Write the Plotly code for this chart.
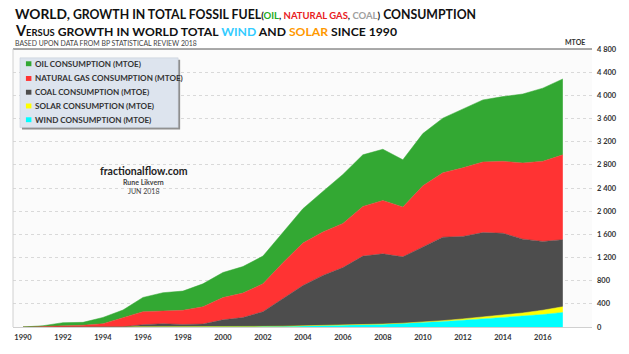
import plotly.graph_objects as go

years = list(range(1990, 2018))
wind = [0, 0, 0, 0, 0, 1, 1, 2, 3, 4, 6, 8, 11, 13, 18, 22, 29, 38, 49, 62, 77, 95, 117, 143, 160, 187, 215, 252]
solar = [0, 0, 0, 0, 0, 0, 0, 0, 0, 0, 0, 0, 0, 1, 1, 1, 1, 1, 2, 4, 7, 15, 23, 29, 45, 56, 75, 98]
coal = [0, 0, 0, 0, 0, 2, 39, 54, 41, 47, 118, 155, 253, 477, 697, 867, 996, 1185, 1212, 1146, 1297, 1441, 1423, 1458, 1414, 1274, 1188, 1157]
gas = [0, 10, 20, 30, 56, 160, 224, 220, 244, 298, 384, 423, 481, 620, 733, 750, 762, 858, 921, 858, 1057, 1112, 1185, 1219, 1242, 1315, 1383, 1466]
oil = [0, 12, 55, 50, 109, 130, 246, 316, 332, 396, 433, 457, 479, 519, 593, 700, 846, 891, 885, 818, 902, 943, 1016, 1072, 1117, 1191, 1263, 1310]

series_names = ["WIND CONSUMPTION (MTOE)", "SOLAR CONSUMPTION (MTOE)", "COAL CONSUMPTION (MTOE)",
                "NATURAL GAS CONSUMPTION (MTOE)", "OIL CONSUMPTION (MTOE)"]
series_vals = [wind, solar, coal, gas, oil]
series_cols = ["#00ffff", "#ffff00", "#4d4d4d", "#ff3333", "#33a833"]

x_ticks = list(range(1990, 2017, 2))
y_ticks = list(range(0, 4801, 400))
y_tick_text = [f"{v:,}".replace(",", " ") for v in y_ticks]

FONT = "Lato"
L, R, T, B = 13, 34, 49, 22
W, H = 629, 354
PW, PH = W - L - R, H - T - B


def px(x):
    return (x - L) / PW


def py(y):
    return 1 - (y - T) / PH


fig = go.Figure()
for name, vals, col in zip(series_names, series_vals, series_cols):
    fig.add_trace(go.Scatter(
        x=years, y=vals, name=name, mode="lines", stackgroup="one",
        line=dict(width=0.5, color=col), fillcolor=col, showlegend=False,
    ))

fig.update_layout(
    width=W, height=H,
    margin=dict(l=L, r=R, t=T, b=B),
    paper_bgcolor="white", plot_bgcolor="#fbfbfb",
    font=dict(family=FONT, color="#333333"),
    showlegend=False,
    xaxis=dict(
        range=[1989.5, 2018.46], tickvals=x_ticks, ticktext=[str(v) for v in x_ticks],
        showgrid=False, zeroline=False, showline=True, linecolor="#d0d0d0", linewidth=1,
        tickfont=dict(size=7.5, color="#333333", weight="bold"), ticks="", ticklabelstandoff=3,
    ),
    yaxis=dict(
        range=[0, 4800], side="right", tickvals=y_ticks, ticktext=y_tick_text,
        showgrid=True, gridcolor="#d9d9d9", griddash="dot", gridwidth=1,
        zeroline=False, showline=False,
        tickfont=dict(size=7.5, color="#333333", weight="bold"), ticks="", ticklabelstandoff=4,
    ),
)

# header line and left border
fig.add_shape(type="line", xref="paper", yref="paper", x0=0, x1=1, y0=1, y1=1,
              line=dict(color="#555555", width=1))
fig.add_shape(type="line", xref="paper", yref="paper", x0=0, x1=0, y0=0, y1=1,
              line=dict(color="#d0d0d0", width=1))

# manual legend box (with shadow)
fig.add_shape(type="rect", xref="paper", yref="paper", x0=px(22), x1=px(181), y0=py(131), y1=py(60),
              line=dict(width=0), fillcolor="#8f8f8f", layer="above")
fig.add_shape(type="rect", xref="paper", yref="paper", x0=px(20), x1=px(179), y0=py(129), y1=py(58),
              line=dict(width=0.5, color="#c5ccd6"), fillcolor="#dde4ee", layer="above")
legend_y = [121, 107, 93, 79, 64]
for name, col, yy in zip(series_names, series_cols, legend_y):
    fig.add_shape(type="rect", xref="paper", yref="paper", x0=px(26), x1=px(31.5),
                  y0=py(yy + 2.5), y1=py(yy - 2.5), line=dict(width=0), fillcolor=col, layer="above")
    fig.add_annotation(text=name, xref="paper", yref="paper", x=px(33), y=py(yy),
                       xanchor="left", yanchor="middle", showarrow=False,
                       font=dict(size=8.1, family=FONT, color="#333333", weight="bold"))


def sp(text, size=None, color=None):
    st = []
    if size:
        st.append(f"font-size:{size}px")
    if color:
        st.append(f"color:{color}")
    return f'<span style="{";".join(st)}">{text}</span>'


line1 = (sp("WORLD,", 13.8) + " GROWTH IN TOTAL FOSSIL FUEL" + sp("(", 9.5) + sp("OIL", 9.5, "#22aa22")
         + sp(", ", 9.5) + sp("NATURAL GAS", 9.5, "#e8201e") + sp(", ", 9.5) + sp("COAL", 9.5, "#a0a0a0")
         + sp(")", 9.5) + " CONSUMPTION")
line2 = (sp("V", 14.5) + sp("ERSUS", 9.4) + " GROWTH IN WORLD TOTAL " + sp("WIND", None, "#33ccff")
         + " AND " + sp("SOLAR", None, "#ff9900") + " SINCE 1990")

fig.add_annotation(text=line1, xref="paper", yref="paper", x=0, y=py(13),
                   xanchor="left", yanchor="middle", showarrow=False,
                   font=dict(size=12.3, family=FONT, color="#111111", weight="bold"))
fig.add_annotation(text=line2, xref="paper", yref="paper", x=0, y=py(30),
                   xanchor="left", yanchor="middle", showarrow=False,
                   font=dict(size=12.2, family=FONT, color="#111111", weight="bold"))
fig.add_annotation(text="BASED UPON DATA FROM BP STATISTICAL REVIEW 2018", xref="paper", yref="paper",
                   x=0, y=py(43), xanchor="left", yanchor="middle", showarrow=False,
                   font=dict(size=6.9, family=FONT, color="#444444"))
fig.add_annotation(text="MTOE", xref="paper", yref="paper", x=px(578), y=py(42),
                   xanchor="center", yanchor="middle", showarrow=False,
                   font=dict(size=7, family=FONT, color="#333333", weight="bold"))

fig.add_annotation(text="fractionalflow.com", xref="paper", yref="paper", x=px(145),
                   y=py(173), xanchor="center", yanchor="middle", showarrow=False,
                   font=dict(size=10.5, family=FONT, color="#222222", weight="bold"))
fig.add_annotation(text="Rune Likvern", xref="paper", yref="paper", x=px(144),
                   y=py(184), xanchor="center", yanchor="middle", showarrow=False,
                   font=dict(size=7, family=FONT, color="#444444", weight="bold"))
fig.add_annotation(text="JUN 2018", xref="paper", yref="paper", x=px(144),
                   y=py(194), xanchor="center", yanchor="middle", showarrow=False,
                   font=dict(size=7, family=FONT, color="#444444"))

fig.write_html("out.html")
